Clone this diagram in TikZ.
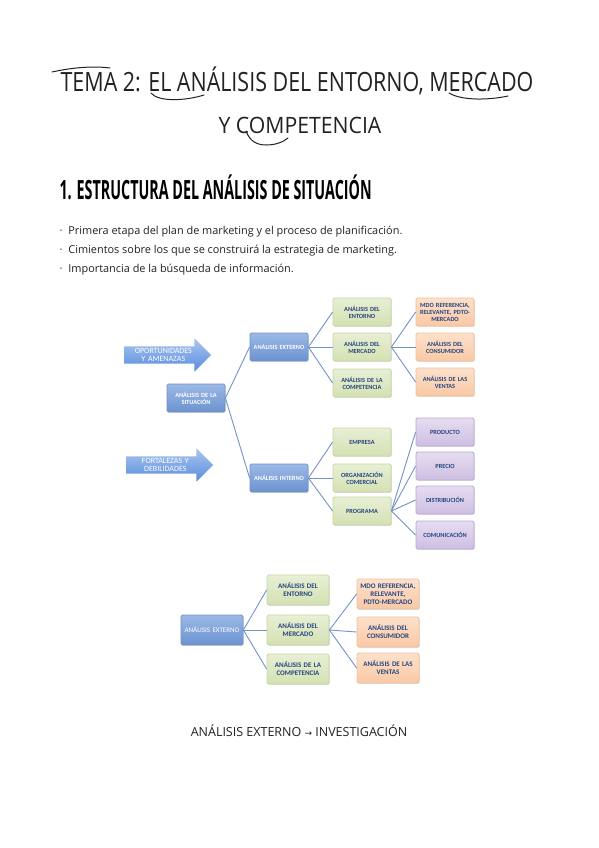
\documentclass[tikz,border=0pt]{standalone}
\usepackage{fontspec}
\setmainfont{Carlito}
\newfontfamily\handfont{Open Sans}
\newfontfamily\symfont{DejaVu Sans}
\usetikzlibrary{shapes.arrows,shadows}

\definecolor{linkblue}{HTML}{7393C9}
\definecolor{boxtext}{HTML}{24457F}
\definecolor{inkgray}{HTML}{222222}
\definecolor{blueTop}{RGB}{155,185,230}
\definecolor{blueBot}{RGB}{108,146,207}
\definecolor{greenLine}{RGB}{200,214,166}
\definecolor{greenTop}{RGB}{232,239,213}
\definecolor{greenBot}{RGB}{212,225,178}
\definecolor{orangeLine}{RGB}{240,195,160}
\definecolor{orangeTop}{RGB}{253,225,203}
\definecolor{orangeBot}{RGB}{249,200,165}
\definecolor{purpleLine}{RGB}{186,168,212}
\definecolor{purpleTop}{RGB}{230,221,240}
\definecolor{purpleBot}{RGB}{206,190,226}
\definecolor{arrowTop}{RGB}{170,198,240}
\definecolor{arrowBot}{RGB}{88,140,222}

\tikzset{
  box/.style={rounded corners=1.5pt, minimum width=58pt, minimum height=28pt,
    text width=57.5pt, inner sep=0.25pt, align=center, line width=0.8pt,
    font=\bfseries\fontsize{6.3}{7}\selectfont,
    drop shadow={opacity=0.25, shadow xshift=0.8pt, shadow yshift=-0.8pt}},
  bigbox/.style={box, minimum width=62pt, minimum height=30pt, text width=61pt,
    font=\bfseries\fontsize{7}{8.1}\selectfont},
  bluebox/.style={draw=linkblue, top color=blueTop, bottom color=blueBot, text=white},
  greenbox/.style={draw=greenLine, top color=greenTop, bottom color=greenBot, text=boxtext},
  orangebox/.style={draw=orangeLine, top color=orangeTop, bottom color=orangeBot, text=boxtext},
  purplebox/.style={draw=purpleLine, top color=purpleTop, bottom color=purpleBot, text=boxtext},
  bigarrow/.style={single arrow, single arrow head extend=8pt, minimum height=87pt,
    text width=64pt, inner xsep=2pt, inner ysep=1.5pt, align=center, anchor=tail,
    top color=arrowTop, bottom color=arrowBot,
    draw=none, text=white, font=\fontsize{8}{8.8}\selectfont},
  link/.style={draw=linkblue, line width=0.9pt},
  hand/.style={inkgray, line width=1pt, line cap=round},
}

\begin{document}
\begin{tikzpicture}[x=1pt, y=-1pt]
\useasboundingbox[fill=white] (0,0) rectangle (599,848);

% title
\node[inkgray, anchor=base] (title1) at (297,92)
  {\scalebox{0.81}[1]{\handfont\fontsize{26.5}{26.5}\selectfont TEMA 2: EL ANÁLISIS DEL ENTORNO, MERCADO}};
\node[inkgray, anchor=base] (title2) at (300,133)
  {\scalebox{0.8}[0.85]{\handfont\fontsize{26.5}{26.5}\selectfont Y COMPETENCIA}};
\draw[hand] (52,72) .. controls (75,67) and (95,66) .. (110,68);
\draw[hand] (151,93) .. controls (158,102) and (185,101) .. (204,95);
\draw[hand] (449,93) .. controls (462,101) and (490,100) .. (508,96);
\draw[hand] (246,131) .. controls (250,142) and (258,145) .. (266,145)
  .. controls (276,145) and (283,142) .. (288,138);

% heading and bullets
\node[anchor=base west, black] (heading) at (56,199)
  {\scalebox{0.54}[1]{\handfont\bfseries\fontsize{26.5}{26.5}\selectfont 1. ESTRUCTURA DEL ANÁLISIS DE SITUACIÓN}};
\node[anchor=west, inkgray, font=\handfont\fontsize{10.9}{12}\selectfont] (b1) at (56,232)
  {·\hspace{6pt}Primera etapa del plan de marketing y el proceso de planificación.};
\node[anchor=west, inkgray, font=\handfont\fontsize{10.9}{12}\selectfont] (b2) at (56,251)
  {·\hspace{6pt}Cimientos sobre los que se construirá la estrategia de marketing.};
\node[anchor=west, inkgray, font=\handfont\fontsize{10.9}{12}\selectfont] (b3) at (56,270)
  {·\hspace{6pt}Importancia de la búsqueda de información.};

% first diagram
\node[bigarrow] (oport) at (124,355) {OPORTUNIDADES\\Y AMENAZAS};
\node[bigarrow] (fort) at (126,465) {FORTALEZAS Y\\DEBILIDADES};

\node[box, bluebox] (sit) at (196,398) {ANÁLISIS DE LA\\SITUACIÓN};
\node[box, bluebox] (ext) at (279,347) {ANÁLISIS EXTERNO};
\node[box, bluebox] (int) at (279,478) {ANÁLISIS INTERNO};

\node[box, greenbox] (entorno) at (362,312) {ANÁLISIS DEL\\ENTORNO};
\node[box, greenbox] (mercado) at (362,347) {ANÁLISIS DEL\\MERCADO};
\node[box, greenbox] (compet) at (362,383) {ANÁLISIS DE LA\\COMPETENCIA};
\node[box, orangebox] (mdo) at (445,312) {MDO REFERENCIA,\\RELEVANTE, PDTO-\\MERCADO};
\node[box, orangebox] (consum) at (445,347) {ANÁLISIS DEL\\CONSUMIDOR};
\node[box, orangebox] (ventas) at (445,382) {ANÁLISIS DE LAS\\VENTAS};

\node[box, greenbox] (empresa) at (362,442) {EMPRESA};
\node[box, greenbox] (orgcom) at (362,478) {ORGANIZACIÓN\\COMERCIAL};
\node[box, greenbox] (programa) at (362,511) {PROGRAMA};
\node[box, purplebox] (producto) at (445,432) {PRODUCTO};
\node[box, purplebox] (precio) at (445,466) {PRECIO};
\node[box, purplebox] (distrib) at (445,500) {DISTRIBUCIÓN};
\node[box, purplebox] (comunic) at (445,535) {COMUNICACIÓN};

\foreach \child in {ext, int}
  \draw[link] (sit.east) -- (\child.west);
\foreach \child in {entorno, mercado, compet}
  \draw[link] (ext.east) -- (\child.west);
\foreach \child in {mdo, consum, ventas}
  \draw[link] (mercado.east) -- (\child.west);
\foreach \child in {empresa, orgcom, programa}
  \draw[link] (int.east) -- (\child.west);
\foreach \child in {producto, precio, distrib, comunic}
  \draw[link] (programa.east) -- (\child.west);

% second diagram
\node[bigbox, bluebox, font=\fontsize{7}{8.1}\selectfont] (ext2) at (212,630) {ANÁLISIS EXTERNO};
\node[bigbox, greenbox] (entorno2) at (298,590) {ANÁLISIS DEL\\ENTORNO};
\node[bigbox, greenbox] (mercado2) at (298,630) {ANÁLISIS DEL\\MERCADO};
\node[bigbox, greenbox] (compet2) at (298,669) {ANÁLISIS DE LA\\COMPETENCIA};
\node[bigbox, orangebox] (mdo2) at (388,594) {MDO REFERENCIA,\\RELEVANTE,\\PDTO-MERCADO};
\node[bigbox, orangebox] (consum2) at (388,632) {ANÁLISIS DEL\\CONSUMIDOR};
\node[bigbox, orangebox] (ventas2) at (388,668) {ANÁLISIS DE LAS\\VENTAS};

\foreach \child in {entorno2, mercado2, compet2}
  \draw[link] (ext2.east) -- (\child.west);
\foreach \child in {mdo2, consum2, ventas2}
  \draw[link] (mercado2.east) -- (\child.west);

\node[inkgray] (note) at (299,731)
  {\handfont\fontsize{12.5}{14}\selectfont ANÁLISIS EXTERNO {\symfont\fontsize{9}{10}\selectfont →} INVESTIGACIÓN};
\end{tikzpicture}
\end{document}
